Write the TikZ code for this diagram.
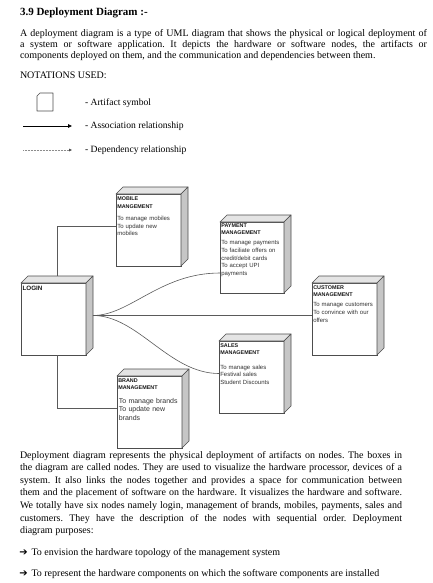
\documentclass[tikz,border=0pt]{standalone}
\usepackage{fontspec}
\setmainfont{Liberation Serif}
\newfontfamily\boxfont{Liberation Sans}
\newfontfamily\symfont{DejaVu Sans}
\usetikzlibrary{calc,arrows.meta}
\frenchspacing
\definecolor{edgegray}{HTML}{4D4D4D}
\definecolor{topgray}{HTML}{E4E4E4}
\definecolor{sidegray}{HTML}{C6C6C6}
\definecolor{linegray}{HTML}{5A5A5A}
\definecolor{textgray}{HTML}{333333}
\newcommand{\fullline}[1]{\makebox[407pt][s]{#1}}
\newcommand{\fulllineb}[1]{\makebox[382pt][s]{#1}}
\begin{document}
\begin{tikzpicture}[x=1pt,y=-1pt,
  txt/.style={anchor=mid west, inner sep=0, outer sep=0},
  bodytext/.style={txt, font=\fontsize{10}{12}\selectfont},
  legendtext/.style={txt, font=\fontsize{9.6}{11}\selectfont},
  devnode/.style={draw=edgegray, fill=white, line width=0.6pt, inner sep=0,
    outer sep=0, anchor=north west, minimum width=65pt, minimum height=72pt},
  face/.style={draw=edgegray, line width=0.6pt, line join=round},
  boxtitle/.style={anchor=base west, inner sep=0, outer sep=0, align=left,
    text width=66pt, text=black!90, font=\boxfont\bfseries\fontsize{5.4}{7.3}\selectfont},
  boxbody/.style={anchor=base west, inner sep=0, outer sep=0, align=left,
    text width=66pt, text=textgray, font=\boxfont\fontsize{6}{7.6}\selectfont},
  conn/.style={draw=linegray, line width=0.6pt},
  bulletarrow/.style={txt, font=\symfont\fontsize{10}{12}\selectfont},
]
\useasboundingbox (0,0) rectangle (433,583);
\fill[white] (0,0) rectangle (433,583);

% ---- heading and introduction ----
\node[txt, font=\bfseries\fontsize{11}{13}\selectfont] (title) at (20,13) {3.9 Deployment Diagram :-};
\node[bodytext] (p1a) at (20,34) {\fullline{A deployment diagram is a type of UML diagram that shows the physical or logical deployment of}};
\node[bodytext] (p1b) at (20,45) {\fullline{a system or software application. It depicts the hardware or software nodes, the artifacts or}};
\node[bodytext] (p1c) at (20,56) {components deployed on them, and the communication and dependencies between them.};
\node[bodytext] (notations) at (20,76) {NOTATIONS USED:};

% ---- legend ----
\draw[edgegray, line width=0.7pt, line join=round]
  (40,93) -- (53,93) -- (53,111) -- (37,111) -- (37,96) -- cycle;
\node[legendtext] (lg1) at (85,103) {- Artifact symbol};
\coordinate (as1) at (23,126);
\coordinate (as2) at (72,126);
\draw[line width=0.8pt, -{Triangle[length=4pt,width=3.5pt]}] (as1) -- (as2);
\node[legendtext] (lg2) at (85,126) {- Association relationship};
\coordinate (dp1) at (23,150);
\coordinate (dp2) at (72,150);
\draw[black!45, line width=0.45pt, dash pattern=on 0.5pt off 1pt,
  -{Triangle[length=3pt,width=2.6pt,color=black!70]}] (dp1) -- (dp2);
\node[legendtext] (lg3) at (85,150) {- Dependency relationship};

% ---- deployment nodes (front faces) ----
\node[devnode] (login)    at (21,283)  {};
\node[devnode] (mobile)   at (116,194) {};
\node[devnode, minimum width=64pt, minimum height=71pt] (payment)  at (220,222) {};
\node[devnode] (customer) at (312,283) {};
\node[devnode] (sales)    at (219,341) {};
\node[devnode] (brand)    at (117,376) {};

% top and side faces give each node its box look
\foreach \n in {login,mobile,payment,customer,sales,brand}{
  \filldraw[face, fill=topgray]
    (\n.north west) -- ++(7,-7) -- ($(\n.north east)+(7,-7)$) -- (\n.north east) -- cycle;
  \filldraw[face, fill=sidegray]
    (\n.north east) -- ++(7,-7) -- ($(\n.south east)+(7,-7)$) -- (\n.south east) -- cycle;
}

% ---- node labels ----
\node[boxtitle, font=\boxfont\bfseries\fontsize{6.3}{7.5}\selectfont] at ($(login.north west)+(1.5,7.8)$) {LOGIN};

\node[boxtitle] at ($(mobile.north west)+(1.3,6.8)$) {MOBILE\\MANGEMENT};
\node[boxbody]  at ($(mobile.north west)+(1.3,26.6)$) {To manage mobiles\\To update new\\mobiles};

\node[boxtitle] at ($(payment.north west)+(1.3,5.2)$) {PAYMENT\\MANAGEMENT};
\node[boxbody]  at ($(payment.north west)+(1.3,22.9)$) {To manage payments\\To faciliate offers on\\credit/debit cards\\To accept UPI\\payments};

\node[boxtitle] at ($(customer.north west)+(1.3,6.5)$) {CUSTOMER\\MANAGEMENT};
\node[boxbody]  at ($(customer.north west)+(1.3,23.8)$) {To manage customers\\To convince with our\\offers};

\node[boxtitle] at ($(sales.north west)+(1.3,6.2)$) {SALES\\MANAGEMENT};
\node[boxbody]  at ($(sales.north west)+(1.3,28.2)$) {To manage sales\\Festival sales\\Student Discounts};

\node[boxtitle] at ($(brand.north west)+(1.3,6.5)$) {BRAND\\MANAGEMENT};
\node[boxbody, font=\boxfont\fontsize{7}{8.9}\selectfont] at ($(brand.north west)+(1.8,27)$) {To manage brands\\To update new\\brands};

% ---- connectors ----
\coordinate (hub) at ($(login.east)+(7,-3.5)$);
\coordinate (payin) at ($(payment.south west)+(0,-20)$);
\draw[conn] ($(login.north)+(3.5,-7)$) |- ($(mobile.west)+(0,-3.5)$);
\draw[conn] (login.south) ++(3.5,0) |- ($(brand.west)+(0,-3.5)$);
\draw[conn] (hub) -- ($(customer.west)+(0,-3.5)$);
\draw[conn] (hub) .. controls +(37,0) and +(-60,0) .. (payin);
\draw[conn] (hub) .. controls +(45,0) and +(-50,0) .. ($(sales.west)+(0,-3.5)$);

% ---- closing text ----
\node[bodytext] (p2a) at (20,455.7) {\fulllineb{Deployment diagram represents the physical deployment of artifacts on nodes. The boxes in}};
\node[bodytext] (p2b) at (20,468.3) {\fulllineb{the diagram are called nodes. They are used to visualize the hardware processor, devices of a}};
\node[bodytext] (p2c) at (20,480.7) {\fulllineb{system. It also links the nodes together and provides a space for communication between}};
\node[bodytext] (p2d) at (20,493.3) {\fulllineb{them and the placement of software on the hardware. It visualizes the hardware and software.}};
\node[bodytext] (p2e) at (20,505.7) {\fulllineb{We totally have six nodes namely login, management of brands, mobiles, payments, sales and}};
\node[bodytext] (p2f) at (20,518.7) {\fulllineb{customers. They have the description of the nodes with sequential order. Deployment}};
\node[bodytext] (p2g) at (20,531) {diagram purposes:};

\node[bulletarrow] (ar1) at (19.5,552.7) {➔};
\node[bodytext] (b1) at (31.5,552.7) {To envision the hardware topology of the management system};
\node[bulletarrow] (ar2) at (19.5,574) {➔};
\node[bodytext] (b2) at (31.5,574) {To represent the hardware components on which the software components are installed};
\end{tikzpicture}
\end{document}
